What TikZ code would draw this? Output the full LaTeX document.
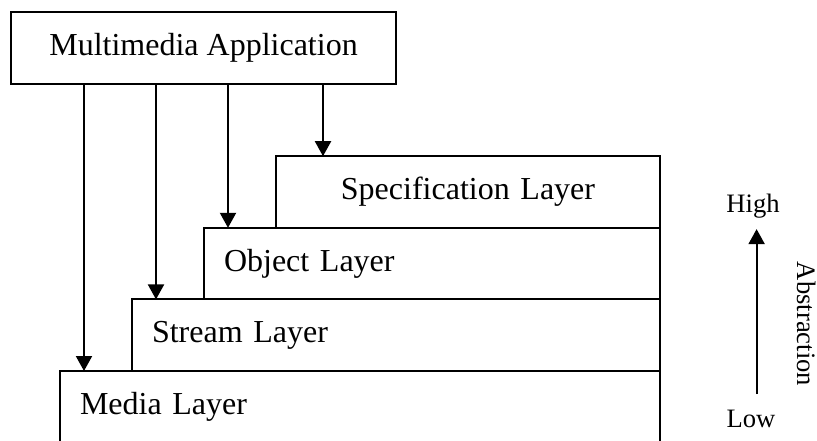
\documentclass[tikz,border=0pt]{standalone}
\usepackage{fontspec}
\setmainfont{Liberation Serif}
\usetikzlibrary{arrows.meta}
\tikzset{%
  >={Triangle[width=8pt,length=7.5pt]},
  % Specifications for style of nodes:
            base/.style = {rectangle, draw=black, line width=1pt, fill=white,
                           minimum height=35.8pt, inner xsep=10pt, outer sep=0pt,
                           font=\fontsize{16pt}{19pt}\selectfont},
          appbox/.style = {base, minimum width=192.5pt, text centered},
           layer/.style = {base, align=left},
            axis/.style = {inner sep=2pt, font=\fontsize{13.3pt}{16pt}\selectfont},
}

\begin{document}
\begin{tikzpicture}[x=0.5pt, y=-0.5pt, line width=1pt]
  \useasboundingbox (0,0) rectangle (817,440);
  % Layers, from the bottom up

  \node (media)   [layer, text width=280pt, anchor=north west] at (60,371) {Media Layer};
  \node (stream)  [layer, text width=244pt, anchor=south west] at ([xshift=36pt]media.north west) {Stream Layer};
  \node (object)  [layer, text width=208pt, anchor=south west] at ([xshift=36pt]stream.north west) {Object Layer};
  \node (spec)    [layer, text width=172pt, align=center, anchor=south west] at ([xshift=36pt]object.north west) {Specification Layer};
  \node (app)     [appbox, anchor=north west] at (11,12) {Multimedia Application};

  \draw[->]     (app.south west) ++(73,0) coordinate (tm) -- (tm |- media.north);
  \draw[->]     (app.south west) ++(145,0) coordinate (ts) -- (ts |- stream.north);
  \draw[->]     (app.south west) ++(217,0) coordinate (to) -- (to |- object.north);
  \draw[->]     (app.south west) ++(312,0) coordinate (tp) -- (tp |- spec.north);

  % Abstraction axis
  \node (high)  [axis] at (753,206) {High};
  \node (low)   [axis] at (751,419) {Low};
  \node (abstr) [axis, rotate=-90] at (807,324) {Abstraction};

  \draw[->, shorten <=5.5pt, shorten >=3pt] ([xshift=2.8pt]low.north) -- ([xshift=2.8pt]low.north |- high.south);
\end{tikzpicture}
\end{document}
